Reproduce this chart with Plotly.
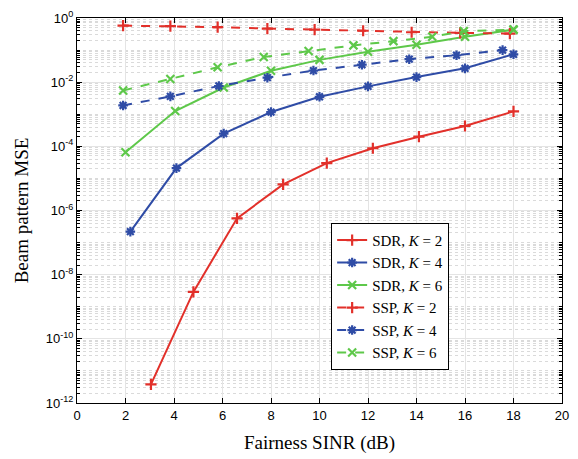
import plotly.graph_objects as go
import numpy as np

# Data
x_sdr2 = [3.05, 4.8, 6.6, 8.5, 10.3, 12.2, 14.1, 16.0, 18.0]
y_sdr2 = [3.8e-12, 2.9e-9, 5.7e-7, 6.5e-6, 3.0e-5, 8.7e-5, 2.0e-4, 4.3e-4, 1.23e-3]

x_sdr4 = [2.2, 4.1, 6.05, 8.0, 10.0, 12.0, 14.0, 16.0, 18.0]
y_sdr4 = [2.2e-7, 2.1e-5, 2.5e-4, 1.17e-3, 3.5e-3, 7.4e-3, 0.0144, 0.027, 0.074]

x_sdr6 = [2.0, 4.05, 6.05, 8.0, 10.0, 12.0, 14.0, 16.0, 18.0]
y_sdr6 = [6.5e-5, 1.26e-3, 6.8e-3, 0.0226, 0.0495, 0.089, 0.147, 0.26, 0.435]

x_ssp2 = [1.9, 3.85, 5.8, 7.85, 9.8, 11.8, 13.8, 15.8, 17.85]
y_ssp2 = [0.58, 0.555, 0.516, 0.468, 0.435, 0.40, 0.36, 0.344, 0.328]

x_ssp4 = [1.9, 3.85, 5.85, 7.85, 9.75, 11.75, 13.7, 15.65, 17.55]
y_ssp4 = [1.88e-3, 3.6e-3, 7.6e-3, 0.0138, 0.023, 0.035, 0.052, 0.069, 0.1]

x_ssp6 = [1.9, 3.85, 5.8, 7.7, 9.55, 11.4, 13.05, 14.65, 15.95, 18.0]
y_ssp6 = [5.5e-3, 0.0125, 0.029, 0.061, 0.093, 0.14, 0.19, 0.26, 0.39, 0.435]

x_ticks = list(range(0, 21, 2))
y_tick_exps = [0, -2, -4, -6, -8, -10, -12]
y_tick_text = ["10<sup>%d</sup>" % e for e in y_tick_exps]

RED = "#e2302a"
BLUE = "#2f4ca6"
GREEN = "#5ec84a"
SERIF = "'Liberation Serif', 'Times New Roman', serif"

series = [
    ("SDR, <i>K</i> = 2", x_sdr2, y_sdr2, RED, "solid", "cross-thin"),
    ("SDR, <i>K</i> = 4", x_sdr4, y_sdr4, BLUE, "solid", "asterisk-open"),
    ("SDR, <i>K</i> = 6", x_sdr6, y_sdr6, GREEN, "solid", "x-thin"),
    ("SSP, <i>K</i> = 2", x_ssp2, y_ssp2, RED, "dash", "cross-thin"),
    ("SSP, <i>K</i> = 4", x_ssp4, y_ssp4, BLUE, "dash", "asterisk-open"),
    ("SSP, <i>K</i> = 6", x_ssp6, y_ssp6, GREEN, "dash", "x-thin"),
]

fig = go.Figure()
for name, xs, ys, col, dash, sym in series:
    fig.add_trace(go.Scatter(
        x=xs, y=ys, name=name, mode="lines+markers",
        line=dict(color=col, width=2, dash=dash),
        marker=dict(symbol=sym, size=8, color=col, line=dict(color=col, width=2.2)),
    ))

minor_vals = []
for e in range(-12, 0):
    for m in range(1, 10):
        v = m * 10.0 ** e
        if not (m == 1 and e % 2 == 0):
            minor_vals.append(v)

fig.update_layout(
    width=578, height=459,
    margin=dict(l=77, r=9, t=15, b=55),
    paper_bgcolor="white", plot_bgcolor="white",
    font=dict(family="'Liberation Sans', Arial", size=13, color="black"),
    showlegend=True,
    legend=dict(
        x=0.524, y=0.468, xanchor="left", yanchor="top",
        bgcolor="white", bordercolor="black", borderwidth=1,
        font=dict(family=SERIF, size=15, color="black"),
        tracegroupgap=0,
    ),
)

fig.update_xaxes(
    range=[0, 20], tickvals=x_ticks, ticktext=[str(v) for v in x_ticks],
    showline=True, linecolor="black", linewidth=1, mirror="ticks",
    ticks="inside", ticklen=5, tickcolor="black",
    showgrid=True, gridcolor="#e4e4e4", gridwidth=1, zeroline=False,
    tickfont=dict(size=13),
    title=dict(text="Fairness SINR (dB)", standoff=14,
               font=dict(family=SERIF, size=19)),
)

fig.update_yaxes(
    type="log", range=[-12, 0],
    tickvals=[10.0 ** e for e in y_tick_exps], ticktext=y_tick_text,
    showline=True, linecolor="black", linewidth=1, mirror="ticks",
    ticks="inside", ticklen=5, tickcolor="black",
    showgrid=True, gridcolor="#e4e4e4", gridwidth=1, zeroline=False,
    tickfont=dict(size=13),
    minor=dict(tickvals=minor_vals, ticks="inside", ticklen=3, tickcolor="black",
               showgrid=True, gridcolor="#dadada", griddash="dot", gridwidth=1),
    title=dict(text="Beam pattern MSE", standoff=12,
               font=dict(family=SERIF, size=19)),
)

fig.write_html("out.html")
